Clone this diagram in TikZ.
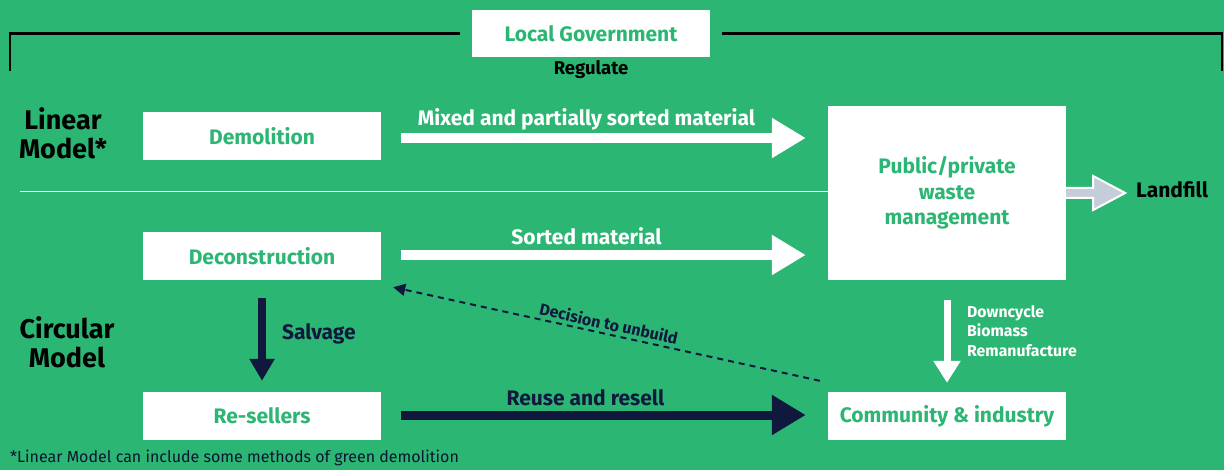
\documentclass[tikz,border=0pt]{standalone}
\usepackage{fontspec}
\setmainfont{Fira Sans}
\usetikzlibrary{arrows,positioning}
\usetikzlibrary{calc}
\usetikzlibrary{arrows.meta}
\definecolor{bggreen}{RGB}{43,182,115}
\definecolor{navy}{RGB}{16,24,62}
\definecolor{ashgray}{RGB}{197,206,216}

\begin{document}
\begin{tikzpicture}[x=1pt,y=-1pt,>=stealth']
			\tikzset{vertex/.style = {shape=rectangle, fill=white, text=bggreen, minimum width=238pt, minimum height=48pt, inner sep=0pt, align=center, font=\fontsize{21}{25.5}\selectfont\bfseries}}
			\tikzset{flow/.style = {line width=10pt, white, -{Triangle[length=34pt,width=38pt]}}}
			\tikzset{navyflow/.style = {line width=9pt, navy, -{Triangle[length=34pt,width=38pt]}}}
			\tikzset{lbl/.style = {font=\fontsize{21}{25}\selectfont\bfseries, inner sep=0pt}}
			\tikzset{model/.style = {font=\fontsize{27}{29}\selectfont\bfseries, align=center, inner sep=0pt}}
			% background
			\fill[bggreen] (0,0) rectangle (1224,470);
			\useasboundingbox (0,0) rectangle (1224,470);
			
			\node[vertex, minimum height=47pt] (GOV) at (591,33.5) {Local Government};
			\node[font=\fontsize{18.5}{21}\selectfont\bfseries] (REG) at (591,70) {Regulate};
			\coordinate (BL) at (10,71);
			\coordinate (BR) at (1222,71);
			\draw[line width=2.5pt] (BL) |- ($(GOV.west)+(-12,0)$);
			\draw[line width=2.5pt] (BR) |- ($(GOV.east)+(12,0)$);
			
			\node[model] (LIN) at (63,133) {Linear\\Model*};
			\node[model] (CIRC) at (67,342) {Circular\\Model};
			
			\node[vertex] (DEMO) at (262,136) {Demolition};
			\node[vertex] (DECON) at (262,256) {Deconstruction};
			\node[vertex] (RESELL) at (262,416) {Re-sellers};
			\node[vertex, minimum height=174pt] (PWM) at (947,193) {Public/private\\waste\\management};
			\node[vertex] (COMM) at (947,416) {Community \& industry};
			\node[font=\fontsize{21}{24}\selectfont\bfseries, anchor=west, inner sep=0pt] (LAND) at (1136,190) {Landfill};
			
			% divider
			\coordinate (DIV) at (20,192);
			\draw[white, line width=1pt] (DIV) -- (DIV -| PWM.west);
			
			% flows
			\draw[flow] ($(DEMO.east)+(20,2)$) -- ($(DEMO.east -| PWM.west)+(-22,2)$)
				node[lbl, white, midway, above=3pt, xshift=-17pt] {Mixed and partially sorted material};
			\draw[flow] ($(DECON.east)+(20,-1)$) -- ($(DECON.east -| PWM.west)+(-22,-1)$)
				node[lbl, white, midway, above=5pt, xshift=-17pt] {Sorted material};
			\draw[navyflow] ($(RESELL.east)+(20,-1)$) -- ($(RESELL.east -| COMM.west)+(-22,-1)$)
				node[lbl, navy, midway, above=5pt, xshift=-18pt] {Reuse and resell};
			\draw[navyflow, line width=8pt, -{Triangle[length=22pt,width=24pt]}] ($(DECON.south)+(0,18)$) -- ($(RESELL.north)+(0,-11)$)
				node[lbl, navy, midway, right=16pt, yshift=6pt] {Salvage};
			\draw[white, line width=7pt, -{Triangle[length=22pt,width=26pt]}] ($(PWM.south)+(0,20)$) -- ($(COMM.north)+(0,-9)$);
			\node[anchor=north west, align=left, text=white, font=\fontsize{15.8}{19.5}\selectfont\bfseries, inner sep=0pt] (DOWN) at (967,305) {Downcycle\\Biomass\\Remanufacture};
			\draw[navy, line width=2pt, dash pattern=on 6pt off 5pt, -{Triangle[length=12pt,width=12pt]}] ($(COMM.north west)+(-8,-11)$) -- ($(DECON.south east)+(12,7)$)
				node[midway, sloped, above=3pt, inner sep=0pt, navy, font=\fontsize{16}{19}\selectfont\bfseries] {Decision to unbuild};
			% landfill arrow
			\draw[white, line width=2pt, fill=ashgray]
				($(PWM.east)+(0,-5)$) -- ++(27,0) -- ++(0,-12) -- ++(32,17) -- ++(-32,17) -- ++(0,-12) -- ($(PWM.east)+(0,5)$);
			
			\node[anchor=west, text=navy!80!black, font=\fontsize{16}{19}\selectfont, inner sep=0pt] (NOTE) at (10,458) {*Linear Model can include some methods of green demolition};
			\end{tikzpicture}
\end{document}
